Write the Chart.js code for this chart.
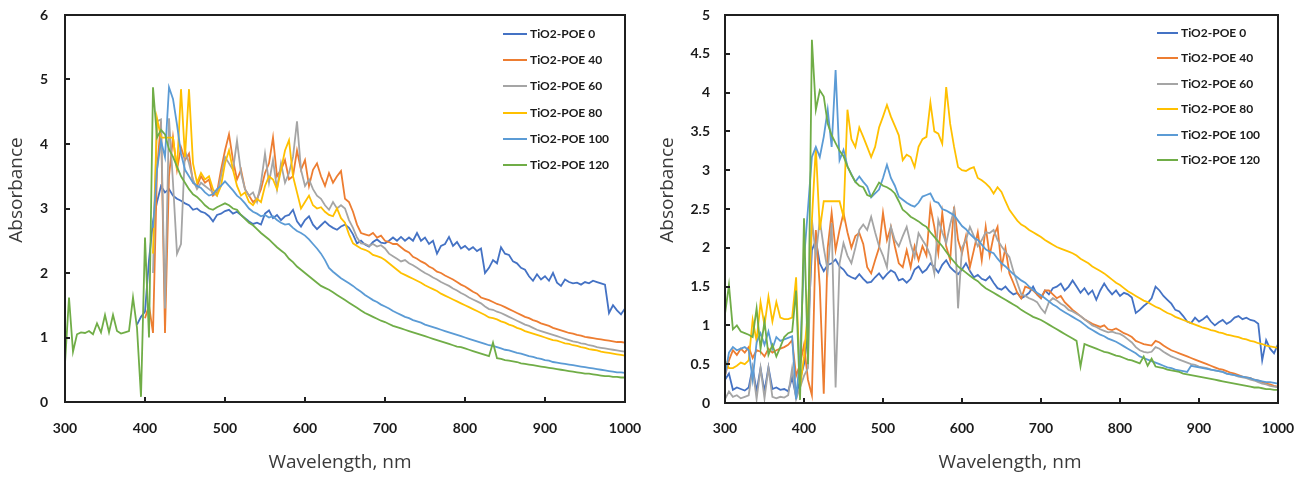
<!DOCTYPE html>
<html>
<head>
<meta charset="utf-8">
<script src="https://cdn.jsdelivr.net/npm/chart.js@4.4.1/dist/chart.umd.min.js"></script>
<style>
  body { margin: 0; background: #fff; }
  #wrap { position: relative; width: 1307px; height: 479px; overflow: hidden; }
  canvas { position: absolute; top: 0; }
  .legend { position: absolute; top: 0; font: bold 12px Lato, sans-serif; color: #1a1a1a; }
  .legend .row { position: absolute; left: 0; height: 16px; line-height: 16px; white-space: nowrap; display: flex; align-items: center; }
  .legend .swatch { display: inline-block; height: 2px; margin-right: 3px; }
</style>
</head>
<body>
<div id="wrap">
  <canvas id="leftChart" width="660" height="479" style="left:0"></canvas>
  <canvas id="rightChart" width="647" height="479" style="left:660px"></canvas>
  <div class="legend" id="leftLegend" style="left:503px"></div>
  <div class="legend" id="rightLegend" style="left:1157px"></div>
</div>
<script>
// wavelength grid, nm
const wavelengths = [
  300, 305, 310, 315, 320, 325, 330, 335, 340, 345,
  350, 355, 360, 365, 370, 375, 380, 385, 390, 395,
  400, 405, 410, 415, 420, 425, 430, 435, 440, 445,
  450, 455, 460, 465, 470, 475, 480, 485, 490, 495,
  500, 505, 510, 515, 520, 525, 530, 535, 540, 545,
  550, 555, 560, 565, 570, 575, 580, 585, 590, 595,
  600, 605, 610, 615, 620, 625, 630, 635, 640, 645,
  650, 655, 660, 665, 670, 675, 680, 685, 690, 695,
  700, 705, 710, 715, 720, 725, 730, 735, 740, 745,
  750, 755, 760, 765, 770, 775, 780, 785, 790, 795,
  800, 805, 810, 815, 820, 825, 830, 835, 840, 845,
  850, 855, 860, 865, 870, 875, 880, 885, 890, 895,
  900, 905, 910, 915, 920, 925, 930, 935, 940, 945,
  950, 955, 960, 965, 970, 975, 980, 985, 990, 995,
  1000
];

const seriesNames = ['TiO2-POE 0', 'TiO2-POE 40', 'TiO2-POE 60', 'TiO2-POE 80', 'TiO2-POE 100', 'TiO2-POE 120'];
const seriesColors = ['#4472C4', '#ED7D31', '#A5A5A5', '#FFC000', '#5B9BD5', '#70AD47'];

const xTicks = [300, 400, 500, 600, 700, 800, 900, 1000];
const leftYTicks = [0, 1, 2, 3, 4, 5, 6];
const rightYTicks = [0, 0.5, 1, 1.5, 2, 2.5, 3, 3.5, 4, 4.5, 5];

const n = null;

// ---- left panel ----
const leftPOE0 = [
  n, n, n, n, n, n, n, n, n, n,
  n, n, n, n, n, n, n, n, 1.20, 1.32,
  1.40, 2.20, 2.80, 3.10, 3.35, 3.25, 3.30, 3.20, 3.15, 3.12,
  3.08, 3.05, 2.98, 3.00, 2.95, 2.93, 2.88, 2.80, 2.90, 2.92,
  2.96, 2.98, 2.92, 2.95, 2.90, 2.85, 2.80, 2.76, 2.78, 2.75,
  2.92, 2.97, 2.85, 2.90, 2.82, 2.88, 2.90, 2.98, 2.80, 2.72,
  2.82, 2.88, 2.75, 2.68, 2.74, 2.80, 2.74, 2.70, 2.67, 2.72,
  2.75, 2.70, 2.60, 2.46, 2.50, 2.44, 2.41, 2.48, 2.52, 2.47,
  2.46, 2.50, 2.55, 2.50, 2.56, 2.50, 2.55, 2.50, 2.62, 2.50,
  2.55, 2.45, 2.50, 2.30, 2.42, 2.45, 2.56, 2.42, 2.48, 2.38,
  2.42, 2.36, 2.40, 2.34, 2.38, 2.00, 2.08, 2.20, 2.15, 2.40,
  2.30, 2.28, 2.18, 2.15, 2.08, 2.05, 1.95, 1.88, 1.98, 1.90,
  1.95, 1.88, 2.00, 1.85, 1.80, 1.90, 1.86, 1.84, 1.85, 1.82,
  1.86, 1.84, 1.88, 1.86, 1.84, 1.82, 1.38, 1.50, 1.42, 1.36,
  1.45
];
const leftPOE40 = [
  n, n, n, n, n, n, n, n, n, n,
  n, n, n, n, n, n, n, n, n, n,
  1.30, 1.50, 1.07, 3.60, 4.35, 1.07, 3.50, 4.10, 3.60, 3.95,
  3.75, 3.85, 3.40, 3.35, 3.50, 3.40, 3.45, 3.20, 3.25, 3.60,
  3.90, 4.15, 3.75, 3.45, 3.60, 3.30, 3.20, 3.10, 3.15, 3.30,
  3.55, 3.70, 4.10, 3.50, 3.60, 3.75, 3.45, 3.50, 3.90, 3.60,
  3.75, 3.35, 3.60, 3.70, 3.50, 3.35, 3.55, 3.40, 3.50, 3.58,
  3.15, 3.10, 2.95, 2.75, 2.62, 2.60, 2.58, 2.62, 2.55, 2.58,
  2.50, 2.48, 2.45, 2.45, 2.40, 2.35, 2.32, 2.25, 2.22, 2.18,
  2.15, 2.10, 2.07, 2.02, 2.00, 1.96, 1.93, 1.90, 1.86, 1.82,
  1.79, 1.75, 1.71, 1.68, 1.62, 1.60, 1.58, 1.55, 1.52, 1.50,
  1.47, 1.44, 1.41, 1.38, 1.35, 1.32, 1.30, 1.27, 1.25, 1.22,
  1.20, 1.18, 1.15, 1.13, 1.11, 1.09, 1.07, 1.06, 1.04, 1.03,
  1.01, 1.00, 0.99, 0.98, 0.97, 0.96, 0.95, 0.94, 0.93, 0.93,
  0.92
];
const leftPOE60 = [
  n, n, n, n, n, n, n, n, n, n,
  n, n, n, n, n, n, n, n, n, n,
  n, n, 2.00, 4.35, 4.38, 1.45, 4.40, 3.40, 2.30, 2.45,
  3.90, 3.70, 3.45, 3.30, 3.40, 3.35, 3.30, 3.25, 3.20, 3.50,
  3.80, 3.70, 3.60, 4.05, 3.55, 3.30, 3.20, 3.25, 3.10, 3.40,
  3.85, 3.40, 3.75, 3.30, 3.70, 3.40, 3.55, 3.80, 4.35, 3.60,
  3.35, 3.45, 3.30, 3.20, 3.15, 3.05, 2.98, 3.10, 3.00, 3.05,
  3.00, 2.82, 2.70, 2.55, 2.46, 2.45, 2.42, 2.45, 2.41, 2.43,
  2.38, 2.30, 2.26, 2.22, 2.18, 2.20, 2.15, 2.12, 2.08, 2.04,
  2.00, 1.97, 1.93, 1.90, 1.86, 1.83, 1.80, 1.76, 1.73, 1.69,
  1.66, 1.62, 1.59, 1.56, 1.53, 1.48, 1.44, 1.43, 1.40, 1.38,
  1.35, 1.32, 1.29, 1.26, 1.23, 1.20, 1.18, 1.15, 1.12, 1.10,
  1.08, 1.06, 1.04, 1.02, 1.00, 0.98, 0.96, 0.94, 0.93, 0.91,
  0.90, 0.88, 0.87, 0.85, 0.84, 0.83, 0.82, 0.81, 0.80, 0.79,
  0.78
];
const leftPOE80 = [
  n, n, n, n, n, n, n, n, n, n,
  n, n, n, n, n, n, n, n, n, n,
  n, n, 2.30, 4.40, 4.10, 4.10, 4.10, 4.10, 3.60, 4.85,
  3.80, 4.85, 3.70, 3.40, 3.55, 3.45, 3.50, 3.30, 3.20, 3.35,
  3.70, 3.90, 3.60, 3.35, 3.20, 3.25, 3.10, 3.05, 3.15, 3.10,
  3.35, 3.50, 3.45, 3.30, 3.60, 3.90, 4.06, 3.50, 3.25, 3.00,
  3.10, 3.20, 3.05, 3.00, 3.02, 2.95, 2.90, 2.88, 3.00, 2.85,
  2.78, 2.60, 2.46, 2.42, 2.38, 2.36, 2.33, 2.28, 2.26, 2.24,
  2.20, 2.15, 2.10, 2.05, 2.00, 1.97, 1.94, 1.91, 1.88, 1.85,
  1.81, 1.78, 1.75, 1.72, 1.68, 1.65, 1.62, 1.59, 1.56, 1.53,
  1.50, 1.47, 1.44, 1.41, 1.38, 1.35, 1.31, 1.30, 1.28, 1.25,
  1.23, 1.20, 1.18, 1.15, 1.13, 1.10, 1.08, 1.06, 1.04, 1.02,
  1.00, 0.98, 0.96, 0.95, 0.93, 0.91, 0.90, 0.88, 0.87, 0.85,
  0.84, 0.82, 0.81, 0.80, 0.78, 0.77, 0.76, 0.75, 0.74, 0.73,
  0.72
];
const leftPOE100 = [
  n, n, n, n, n, n, n, n, n, n,
  n, n, n, n, n, n, n, n, n, n,
  n, n, 2.70, 3.60, 4.05, 3.80, 4.88, 4.70, 4.30, 3.85,
  3.60, 3.50, 3.40, 3.35, 3.32, 3.25, 3.20, 3.22, 3.30, 3.35,
  3.42, 3.35, 3.28, 3.20, 3.15, 3.08, 3.00, 2.95, 2.92, 2.88,
  2.90, 2.86, 2.88, 2.82, 2.78, 2.75, 2.76, 2.70, 2.65, 2.62,
  2.58, 2.52, 2.45, 2.38, 2.30, 2.20, 2.08, 2.02, 1.97, 1.92,
  1.88, 1.84, 1.80, 1.75, 1.71, 1.66, 1.62, 1.58, 1.55, 1.51,
  1.48, 1.45, 1.41, 1.38, 1.35, 1.32, 1.30, 1.27, 1.25, 1.23,
  1.20, 1.18, 1.16, 1.14, 1.12, 1.10, 1.08, 1.06, 1.04, 1.02,
  1.00, 0.98, 0.96, 0.94, 0.92, 0.90, 0.88, 0.87, 0.85, 0.83,
  0.81, 0.80, 0.78, 0.76, 0.75, 0.73, 0.71, 0.70, 0.68, 0.67,
  0.65, 0.64, 0.62, 0.61, 0.60, 0.59, 0.58, 0.57, 0.56, 0.55,
  0.54, 0.53, 0.52, 0.51, 0.50, 0.49, 0.48, 0.47, 0.46, 0.46,
  0.45
];
const leftPOE120 = [
  0.60, 1.62, 0.78, 1.05, 1.08, 1.07, 1.10, 1.05, 1.22, 1.08,
  1.35, 1.08, 1.35, 1.10, 1.06, 1.08, 1.10, 1.62, 1.15, 0.08,
  2.55, 1.00, 4.88, 4.10, 4.22, 4.15, 3.92, 3.80, 3.65, 3.50,
  3.40, 3.30, 3.22, 3.18, 3.12, 3.05, 3.00, 2.98, 3.02, 3.05,
  3.08, 3.05, 3.00, 2.98, 2.90, 2.84, 2.78, 2.74, 2.68, 2.62,
  2.57, 2.52, 2.46, 2.40, 2.35, 2.30, 2.22, 2.17, 2.10, 2.05,
  2.00, 1.95, 1.90, 1.85, 1.80, 1.77, 1.74, 1.70, 1.66, 1.62,
  1.58, 1.54, 1.50, 1.46, 1.42, 1.38, 1.35, 1.32, 1.29, 1.26,
  1.24, 1.21, 1.18, 1.16, 1.14, 1.12, 1.10, 1.08, 1.06, 1.04,
  1.02, 1.00, 0.98, 0.96, 0.94, 0.92, 0.90, 0.88, 0.86, 0.85,
  0.83, 0.81, 0.79, 0.77, 0.75, 0.73, 0.71, 0.92, 0.68, 0.67,
  0.65, 0.64, 0.63, 0.62, 0.60, 0.59, 0.58, 0.57, 0.56, 0.55,
  0.54, 0.53, 0.52, 0.51, 0.50, 0.49, 0.48, 0.47, 0.46, 0.45,
  0.44, 0.44, 0.43, 0.42, 0.41, 0.40, 0.40, 0.39, 0.39, 0.38,
  0.38
];

// ---- right panel ----
const rightPOE0 = [
  0.30, 0.38, 0.17, 0.20, 0.18, 0.16, 0.20, 0.46, 0.15, 0.45,
  0.15, 0.46, 0.18, 0.20, 0.17, 0.18, 0.15, 0.33, 0.08, 0.30,
  0.50, 0.90, 1.97, 2.10, 1.80, 1.70, 1.78, 1.80, 1.85, 1.76,
  1.72, 1.65, 1.62, 1.60, 1.66, 1.60, 1.55, 1.56, 1.62, 1.67,
  1.60, 1.66, 1.71, 1.68, 1.58, 1.60, 1.55, 1.60, 1.72, 1.76,
  1.68, 1.72, 1.80, 1.75, 1.68, 1.78, 1.84, 1.75, 1.70, 1.66,
  1.72, 1.80, 1.70, 1.62, 1.65, 1.60, 1.58, 1.63, 1.55, 1.48,
  1.46, 1.50, 1.44, 1.40, 1.42, 1.35, 1.38, 1.42, 1.50, 1.40,
  1.35, 1.45, 1.40, 1.48, 1.50, 1.54, 1.45, 1.50, 1.58, 1.50,
  1.42, 1.48, 1.40, 1.45, 1.33, 1.45, 1.54, 1.46, 1.40, 1.45,
  1.38, 1.42, 1.40, 1.36, 1.16, 1.20, 1.25, 1.29, 1.35, 1.50,
  1.45, 1.38, 1.33, 1.28, 1.20, 1.18, 1.12, 1.05, 1.03, 1.10,
  1.05, 1.08, 1.12, 1.05, 1.00, 1.04, 1.07, 1.02, 1.05, 1.10,
  1.12, 1.08, 1.10, 1.07, 1.06, 1.02, 0.55, 0.81, 0.70, 0.64,
  0.76
];
const rightPOE40 = [
  0.35, 0.55, 0.68, 0.62, 0.70, 0.65, 0.72, 0.58, 0.68, 0.66,
  0.60, 0.70, 0.65, 0.68, 0.70, 0.72, 0.75, 0.81, 0.35, 0.50,
  0.75, 0.30, 0.10, 2.23, 1.50, 0.12, 2.00, 2.45, 1.97, 2.23,
  2.45, 2.20, 2.00, 2.15, 2.19, 2.05, 1.75, 1.67, 1.84, 2.00,
  2.45, 2.10, 2.27, 2.02, 1.80, 1.75, 1.97, 1.75, 2.02, 1.84,
  2.02, 1.90, 2.53, 2.27, 1.93, 2.45, 2.02, 1.84, 2.53, 2.10,
  1.93, 2.15, 1.75, 1.97, 2.20, 1.84, 2.27, 1.90, 2.15, 2.27,
  1.75, 2.00, 1.67, 1.55, 1.42, 1.35, 1.50, 1.48, 1.45, 1.40,
  1.35, 1.45, 1.45, 1.40, 1.35, 1.38, 1.30, 1.25, 1.20, 1.16,
  1.12, 1.08, 1.05, 1.02, 1.00, 0.98, 1.00, 0.95, 0.94, 0.96,
  0.93, 0.90, 0.88, 0.85, 0.80, 0.78, 0.76, 0.75, 0.74, 0.80,
  0.78, 0.74, 0.71, 0.68, 0.66, 0.64, 0.62, 0.60, 0.58, 0.56,
  0.54, 0.52, 0.50, 0.48, 0.46, 0.44, 0.43, 0.41, 0.39, 0.38,
  0.36, 0.34, 0.33, 0.32, 0.30, 0.29, 0.27, 0.25, 0.24, 0.22,
  0.21
];
const rightPOE60 = [
  0.05, 0.15, 0.08, 0.10, 0.06, 0.08, 0.10, 0.45, 0.05, 0.45,
  0.06, 0.45, 0.08, 0.06, 0.08, 0.07, 0.10, 0.45, 0.05, 0.20,
  0.35, 0.45, 2.36, 1.90, 2.36, 2.00, 1.70, 2.32, 0.20, 1.80,
  2.06, 1.90, 1.80, 2.00, 2.23, 2.30, 2.23, 2.40, 2.20, 2.02,
  1.90, 1.75, 2.27, 2.10, 2.02, 2.15, 2.27, 2.05, 1.88, 2.19,
  2.10, 2.02, 1.90, 1.67, 2.36, 2.20, 2.06, 2.30, 2.49, 1.22,
  2.00, 2.10, 2.27, 2.15, 2.02, 2.10, 2.20, 2.19, 2.23, 2.10,
  2.02, 1.95, 1.88, 1.70, 1.55, 1.40, 1.38, 1.35, 1.33, 1.30,
  1.22, 1.16, 1.30, 1.35, 1.32, 1.28, 1.25, 1.20, 1.18, 1.15,
  1.12, 1.08, 1.04, 1.00, 0.98, 0.95, 0.93, 0.91, 0.92, 0.90,
  0.89, 0.86, 0.82, 0.78, 0.72, 0.68, 0.66, 0.65, 0.66, 0.72,
  0.70, 0.66, 0.63, 0.60, 0.58, 0.56, 0.54, 0.52, 0.50, 0.49,
  0.47, 0.46, 0.45, 0.43, 0.42, 0.41, 0.40, 0.38, 0.37, 0.36,
  0.34, 0.33, 0.32, 0.30, 0.29, 0.27, 0.25, 0.24, 0.22, 0.21,
  0.20
];
const rightPOE80 = [
  0.55, 0.45, 0.45, 0.48, 0.52, 0.50, 0.55, 1.07, 0.80, 1.30,
  1.00, 1.37, 1.05, 1.30, 1.10, 1.08, 1.08, 1.10, 1.62, 0.20,
  0.60, 1.20, 2.36, 3.30, 2.23, 2.60, 2.60, 2.60, 2.60, 2.60,
  2.40, 3.78, 3.40, 3.30, 3.55, 3.43, 3.30, 3.17, 3.30, 3.55,
  3.69, 3.84, 3.69, 3.57, 3.45, 3.13, 3.20, 3.17, 3.04, 3.30,
  3.40, 3.43, 3.87, 3.50, 3.47, 3.34, 4.07, 3.60, 3.30, 3.04,
  3.00, 2.99, 3.02, 3.04, 2.90, 2.87, 2.83, 2.78, 2.70, 2.78,
  2.72, 2.60, 2.49, 2.42, 2.35, 2.30, 2.27, 2.23, 2.20, 2.17,
  2.14, 2.10, 2.07, 2.04, 2.01, 1.99, 1.97, 1.95, 1.93, 1.90,
  1.86, 1.83, 1.80, 1.76, 1.73, 1.70, 1.67, 1.63, 1.59, 1.55,
  1.52, 1.48, 1.44, 1.41, 1.38, 1.35, 1.32, 1.30, 1.27, 1.24,
  1.22, 1.19, 1.16, 1.14, 1.11, 1.09, 1.07, 1.05, 1.03, 1.01,
  0.99, 0.97, 0.96, 0.94, 0.93, 0.91, 0.90, 0.88, 0.87, 0.86,
  0.85, 0.83, 0.82, 0.80, 0.79, 0.77, 0.76, 0.74, 0.73, 0.72,
  0.71
];
const rightPOE100 = [
  0.35, 0.65, 0.72, 0.68, 0.70, 0.72, 0.68, 0.30, 0.78, 0.90,
  0.75, 0.92, 0.70, 0.85, 0.80, 0.82, 0.84, 0.86, 0.05, 0.60,
  1.85, 2.50, 3.17, 3.30, 3.17, 3.43, 3.78, 3.30, 4.29, 3.13,
  3.26, 3.05, 2.95, 2.85, 2.92, 2.85, 2.79, 2.65, 2.70, 2.75,
  2.90, 3.07, 2.90, 2.80, 2.66, 2.62, 2.58, 2.55, 2.53, 2.58,
  2.66, 2.68, 2.70, 2.60, 2.58, 2.50, 2.48, 2.45, 2.42, 2.35,
  2.28, 2.24, 2.18, 2.13, 2.10, 2.04, 1.98, 1.95, 1.93, 1.86,
  1.80, 1.76, 1.71, 1.66, 1.62, 1.58, 1.55, 1.50, 1.46, 1.42,
  1.39, 1.35, 1.31, 1.27, 1.24, 1.20, 1.17, 1.14, 1.11, 1.08,
  1.05, 1.01, 0.97, 0.94, 0.91, 0.88, 0.86, 0.83, 0.81, 0.79,
  0.76, 0.73, 0.70, 0.67, 0.64, 0.60, 0.58, 0.56, 0.54, 0.52,
  0.50, 0.48, 0.46, 0.45, 0.43, 0.42, 0.41, 0.40, 0.48, 0.47,
  0.46, 0.45, 0.44, 0.43, 0.42, 0.41, 0.40, 0.38, 0.37, 0.36,
  0.35, 0.34, 0.33, 0.32, 0.30, 0.29, 0.28, 0.27, 0.27, 0.26,
  0.25
];
const rightPOE120 = [
  1.15, 1.52, 0.95, 1.00, 0.92, 0.90, 0.88, 0.85, 1.22, 0.70,
  1.05, 0.62, 0.75, 0.60, 0.72, 0.85, 0.90, 0.92, 1.45, 0.04,
  2.38, 0.50, 4.68, 3.78, 4.03, 3.95, 3.60, 3.45, 3.35, 3.25,
  3.18, 3.05, 2.94, 2.85, 2.80, 2.78, 2.68, 2.66, 2.75, 2.84,
  2.80, 2.78, 2.75, 2.70, 2.60, 2.49, 2.45, 2.40, 2.37, 2.34,
  2.30, 2.27, 2.20, 2.14, 2.08, 2.02, 1.95, 1.88, 1.82, 1.76,
  1.72, 1.68, 1.64, 1.60, 1.57, 1.52, 1.48, 1.45, 1.42, 1.39,
  1.36, 1.33, 1.30, 1.27, 1.24, 1.20, 1.17, 1.14, 1.11, 1.09,
  1.07, 1.04, 1.01, 0.98, 0.95, 0.92, 0.89, 0.86, 0.83, 0.80,
  0.47, 0.76, 0.74, 0.72, 0.70, 0.68, 0.66, 0.65, 0.63, 0.61,
  0.60, 0.58, 0.56, 0.55, 0.53, 0.51, 0.60, 0.48, 0.57, 0.47,
  0.46, 0.45, 0.43, 0.42, 0.41, 0.40, 0.38, 0.37, 0.36, 0.35,
  0.34, 0.33, 0.32, 0.31, 0.30, 0.29, 0.28, 0.27, 0.26, 0.25,
  0.24, 0.23, 0.22, 0.21, 0.20, 0.20, 0.19, 0.18, 0.18, 0.17,
  0.17
];

const leftSeries = [leftPOE0, leftPOE40, leftPOE60, leftPOE80, leftPOE100, leftPOE120];
const rightSeries = [rightPOE0, rightPOE40, rightPOE60, rightPOE80, rightPOE100, rightPOE120];

// frame, inside tick marks and axis titles
const framePlugin = {
  id: 'frame',
  afterDatasetsDraw(chart, args, opts) {
    const { ctx, chartArea: a, scales } = chart;
    ctx.save();
    ctx.strokeStyle = '#1f1f1f';
    ctx.lineWidth = 2;
    ctx.strokeRect(a.left, a.top, a.right - a.left, a.bottom - a.top);
    ctx.beginPath();
    opts.xTicks.forEach(v => {
      const px = Math.round(scales.x.getPixelForValue(v));
      ctx.moveTo(px, a.bottom);
      ctx.lineTo(px, a.bottom - 5);
    });
    opts.yTicks.forEach(v => {
      const py = Math.round(scales.y.getPixelForValue(v));
      ctx.moveTo(a.left, py);
      ctx.lineTo(a.left + 5, py);
    });
    ctx.stroke();

    ctx.fillStyle = '#3a3a3a';
    ctx.font = '19px "Open Sans", sans-serif';
    ctx.textAlign = 'center';
    ctx.textBaseline = 'middle';
    ctx.fillText('Wavelength, nm', opts.xTitleX, opts.xTitleY);
    ctx.translate(opts.yTitleX, opts.yTitleY);
    ctx.rotate(-Math.PI / 2);
    ctx.fillText('Absorbance', 0, 0);
    ctx.restore();
  }
};

function makeChart(id, series, yMax, yStep, yTicks, cfg) {
  const datasets = series.map((vals, i) => ({
    label: seriesNames[i],
    data: wavelengths.map((w, j) => ({ x: w, y: vals[j] })),
    borderColor: seriesColors[i],
    borderWidth: 1.8,
    pointRadius: 0,
    tension: 0,
    fill: false,
    spanGaps: false,
    order: series.length - i
  }));
  const tickFont = { family: 'Lato', weight: 'bold', size: 14 };
  return new Chart(document.getElementById(id), {
    type: 'line',
    data: { datasets },
    plugins: [framePlugin],
    options: {
      responsive: false,
      animation: false,
      layout: { padding: { top: 15, right: cfg.padRight, left: 0, bottom: 0 } },
      scales: {
        x: {
          type: 'linear',
          min: 300,
          max: 1000,
          grid: { display: false, drawTicks: false },
          border: { display: false },
          ticks: { stepSize: 100, padding: cfg.xTickPad, color: '#1a1a1a', font: tickFont, maxRotation: 0,
                   callback: v => String(v) },
          afterFit: s => { s.height = cfg.xHeight; s.paddingLeft = 0; s.paddingRight = 0; }
        },
        y: {
          min: 0,
          max: yMax,
          grid: { display: false, drawTicks: false },
          border: { display: false },
          ticks: { stepSize: yStep, padding: cfg.yTickPad, color: '#1a1a1a', font: tickFont,
                   callback: v => String(v) },
          afterFit: s => { s.width = 65; s.paddingTop = 0; s.paddingBottom = 0; }
        }
      },
      plugins: {
        legend: { display: false },
        tooltip: { enabled: false },
        frame: {
          xTicks: xTicks,
          yTicks: yTicks,
          xTitleX: cfg.xTitleX,
          xTitleY: 463,
          yTitleX: cfg.yTitleX,
          yTitleY: 190
        }
      }
    }
  });
}

makeChart('leftChart', leftSeries, 6, 1, leftYTicks,
  { padRight: 35, xHeight: 77, xTickPad: 18, yTickPad: 17, xTitleX: 340, yTitleX: 17 });
makeChart('rightChart', rightSeries, 5, 0.5, rightYTicks,
  { padRight: 29, xHeight: 76, xTickPad: 17, yTickPad: 15, xTitleX: 350, yTitleX: 8 });

function buildLegend(id, rowTop, rowGap, lineWidth) {
  const box = document.getElementById(id);
  seriesNames.forEach((name, i) => {
    const row = document.createElement('div');
    row.className = 'row';
    row.style.top = (rowTop + i * rowGap - 8) + 'px';
    const sw = document.createElement('span');
    sw.className = 'swatch';
    sw.style.width = lineWidth + 'px';
    sw.style.background = seriesColors[i];
    const label = document.createElement('span');
    label.textContent = name;
    row.appendChild(sw);
    row.appendChild(label);
    box.appendChild(row);
  });
}
buildLegend('leftLegend', 34, 26.2, 24);
buildLegend('rightLegend', 33, 25.4, 21);
</script>
</body>
</html>
